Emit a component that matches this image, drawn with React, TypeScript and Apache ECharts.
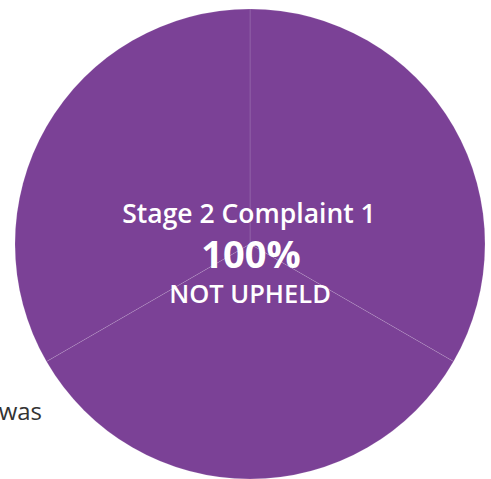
import React, { useEffect, useRef } from "react";
import * as echarts from "echarts";

const sliceNames = ["Part A", "Part B", "Part C"];
const sliceValues = [1, 1, 1];
const titleText = "Stage 2 Complaint 1";
const percentText = "100%";
const outcomeText = "NOT UPHELD";
const sideText = "was";

const PURPLE = "#7b4196";
const FONT = "'Open Sans', 'Noto Sans', sans-serif";

export default function App() {
  const ref = useRef<HTMLDivElement>(null);
  useEffect(() => {
    if (!ref.current) return;
    const chart = echarts.init(ref.current, undefined, { renderer: "svg" });
    chart.setOption({
      animation: false,
      backgroundColor: "#ffffff",
      series: [
        {
          type: "pie",
          center: [250, 244],
          radius: 235,
          startAngle: 90,
          clockwise: true,
          silent: true,
          z: 2,
          label: { show: false },
          labelLine: { show: false },
          itemStyle: {
            color: PURPLE,
            borderColor: "rgba(255,255,255,0.2)",
            borderWidth: 0.6,
          },
          data: sliceNames.map((n, i) => ({ name: n, value: sliceValues[i] })),
        },
      ],
      graphic: {
        elements: [
          {
            type: "text",
            z: 100,
            x: 42,
            y: 410,
            style: {
              text: sideText,
              font: `400 24px ${FONT}`,
              lineHeight: 24,
              fill: "#333333",
              textAlign: "right",
              textVerticalAlign: "middle",
            },
          },
          {
            type: "text",
            z: 100,
            x: 249,
            y: 212.5,
            style: {
              text: titleText,
              font: `600 26.5px ${FONT}`,
              lineHeight: 26,
              fill: "#ffffff",
              textAlign: "center",
              textVerticalAlign: "middle",
            },
          },
          {
            type: "text",
            z: 100,
            x: 251,
            y: 252.5,
            style: {
              text: percentText,
              font: `700 38px ${FONT}`,
              lineHeight: 36,
              fill: "#ffffff",
              textAlign: "center",
              textVerticalAlign: "middle",
            },
          },
          {
            type: "text",
            z: 100,
            x: 250,
            y: 292.5,
            style: {
              text: outcomeText,
              font: `600 25.5px ${FONT}`,
              lineHeight: 25,
              fill: "#ffffff",
              textAlign: "center",
              textVerticalAlign: "middle",
            },
          },
        ],
      },
    });
    return () => chart.dispose();
  }, []);
  return (
    <div
      ref={ref}
      style={{ position: "absolute", left: 0, top: 0, width: 491, height: 479 }}
    />
  );
}
